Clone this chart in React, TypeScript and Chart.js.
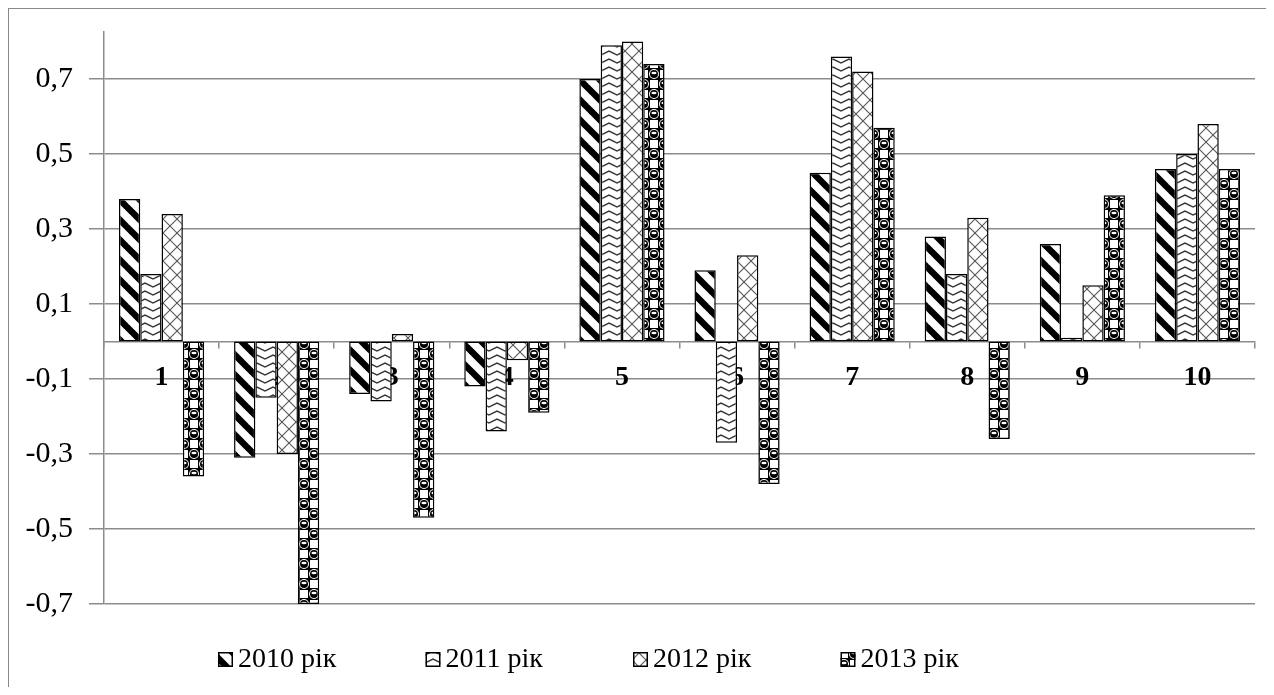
import React, { useEffect, useRef } from 'react';
import { Chart, registerables } from 'chart.js';

Chart.register(...registerables);

const categories = ['1', '2', '3', '4', '5', '6', '7', '8', '9', '10'];
const seriesNames = ['2010 рік', '2011 рік', '2012 рік', '2013 рік'];
const values2010 = [0.38, -0.31, -0.14, -0.12, 0.70, 0.19, 0.45, 0.28, 0.26, 0.46];
const values2011 = [0.18, -0.15, -0.16, -0.24, 0.79, -0.27, 0.76, 0.18, 0.01, 0.50];
const values2012 = [0.34, -0.30, 0.02, -0.05, 0.80, 0.23, 0.72, 0.33, 0.15, 0.58];
const values2013 = [-0.36, -0.70, -0.47, -0.19, 0.74, -0.38, 0.57, -0.26, 0.39, 0.46];
const yTickValues = [-0.7, -0.5, -0.3, -0.1, 0.1, 0.3, 0.5, 0.7];
const yMin = -0.7;
const yMax = 0.825;

const SERIF = "'Liberation Serif', 'Times New Roman', serif";
const GRID = '#8c8c8c';

function makePattern(kind: number): CanvasPattern | string {
  const c = document.createElement('canvas');
  const ctx = c.getContext('2d')!;
  if (kind === 0) {
    const s = 20;
    c.width = s; c.height = s;
    ctx.fillStyle = '#fff'; ctx.fillRect(0, 0, s, s);
    ctx.strokeStyle = '#000'; ctx.lineWidth = 6.5;
    for (const o of [-s, 0, s]) {
      ctx.beginPath(); ctx.moveTo(o - 2, -2); ctx.lineTo(o + s + 2, s + 2); ctx.stroke();
    }
  } else if (kind === 1) {
    const w = 16, h = 8;
    c.width = w; c.height = h;
    ctx.fillStyle = '#fff'; ctx.fillRect(0, 0, w, h);
    ctx.strokeStyle = '#333'; ctx.lineWidth = 1.4;
    ctx.beginPath(); ctx.moveTo(-1, 6.5); ctx.lineTo(8, 2); ctx.lineTo(17, 6.5); ctx.stroke();
  } else if (kind === 2) {
    const s = 14;
    c.width = s; c.height = s;
    ctx.fillStyle = '#fff'; ctx.fillRect(0, 0, s, s);
    ctx.strokeStyle = '#555'; ctx.lineWidth = 1.1;
    ctx.beginPath(); ctx.moveTo(0, 0); ctx.lineTo(s, s); ctx.stroke();
    ctx.beginPath(); ctx.moveTo(s, 0); ctx.lineTo(0, s); ctx.stroke();
  } else {
    const s = 20;
    c.width = s; c.height = s;
    ctx.fillStyle = '#000'; ctx.fillRect(0, 0, s, s);
    // white squares in alternate cells
    ctx.fillStyle = '#fff';
    ctx.fillRect(11, 1, 8, 8);
    ctx.fillRect(1, 11, 8, 8);
    // balls in the other cells: gray ring, black ball, white highlight
    for (const [cx, cy] of [[5, 5], [15, 15]]) {
      ctx.fillStyle = '#fff';
      ctx.beginPath(); ctx.arc(cx, cy, 5, 0, Math.PI * 2); ctx.fill();
      ctx.fillStyle = '#000';
      ctx.beginPath(); ctx.arc(cx, cy, 4, 0, Math.PI * 2); ctx.fill();
      ctx.fillStyle = '#fff';
      ctx.beginPath(); ctx.ellipse(cx, cy - 1, 2.6, 1.2, 0, 0, Math.PI * 2); ctx.fill();
    }
  }
  return ctx.createPattern(c, 'repeat') || '#000';
}

const legendPlugin = {
  id: 'bottomLegend',
  afterDraw(chart: any) {
    const ctx = chart.ctx as CanvasRenderingContext2D;
    const y = chart.chartArea.bottom + 55;
    const x0 = 209;
    const step = 207.5;
    ctx.save();
    chart.data.datasets.forEach((ds: any, i: number) => {
      const x = x0 + i * step;
      ctx.fillStyle = ds.backgroundColor;
      ctx.fillRect(x, y - 7, 15, 15);
      ctx.strokeStyle = '#000';
      ctx.lineWidth = 1.5;
      ctx.strokeRect(x + 0.75, y - 6.25, 13.5, 13.5);
      ctx.fillStyle = '#000';
      ctx.font = `28px ${SERIF}`;
      ctx.textBaseline = 'middle';
      ctx.textAlign = 'left';
      ctx.fillText(ds.label, x + 20, y + 1);
    });
    ctx.restore();
  },
};

export default function App() {
  const ref = useRef<HTMLCanvasElement>(null);
  useEffect(() => {
    if (!ref.current) return;
    const series = [values2010, values2011, values2012, values2013];
    const chart = new Chart(ref.current, {
      type: 'bar',
      data: {
        labels: categories,
        datasets: series.map((vals, i) => ({
          label: seriesNames[i],
          data: vals,
          backgroundColor: makePattern(i) as any,
          borderColor: '#000',
          borderWidth: 1.5,
          borderSkipped: false,
          categoryPercentage: 0.74,
          barPercentage: 1,
        })),
      },
      options: {
        animation: false,
        responsive: true,
        maintainAspectRatio: false,
        layout: { padding: { top: 23, right: 19, bottom: 83, left: 0 } },
        plugins: { legend: { display: false }, tooltip: { enabled: false } },
        scales: {
          x: {
            position: { y: 0 } as any,
            z: 1,
            afterFit: (scale: any) => {
              scale.height = 0;
              scale.paddingLeft = 0;
              scale.paddingRight = 0;
              scale.paddingTop = 0;
              scale.paddingBottom = 0;
            },
            grid: { drawOnChartArea: false, drawTicks: true, tickLength: 6, color: GRID, lineWidth: 1.5, offset: true },
            border: { display: true, color: GRID, width: 1.5 },
            ticks: { color: '#000', font: { family: SERIF, size: 28, weight: 'bold' }, padding: 14, maxRotation: 0 },
          },
          y: {
            min: yMin,
            max: yMax,
            afterBuildTicks: (scale: any) => {
              scale.ticks = yTickValues.map((v) => ({ value: v }));
            },
            afterFit: (scale: any) => {
              scale.width = 95;
              scale.paddingTop = 0;
              scale.paddingBottom = 0;
            },
            grid: { color: GRID, lineWidth: 1.5, drawTicks: true, tickLength: 15, tickColor: GRID },
            border: { display: true, color: GRID, width: 1.5 },
            ticks: {
              color: '#000',
              padding: 16,
              font: { family: SERIF, size: 30 },
              callback: (v: any) => Number(v).toFixed(1).replace('.', ','),
            },
          },
        },
      },
      plugins: [legendPlugin],
    });
    return () => chart.destroy();
  }, []);

  return (
    <div
      style={{
        width: 1266,
        height: 679,
        borderTop: '1px solid #888',
        borderLeft: '1px solid #888',
        boxSizing: 'border-box',
        position: 'relative',
      }}
    >
      <div style={{ position: 'relative', width: '100%', height: '100%' }}>
        <canvas ref={ref} />
      </div>
    </div>
  );
}
